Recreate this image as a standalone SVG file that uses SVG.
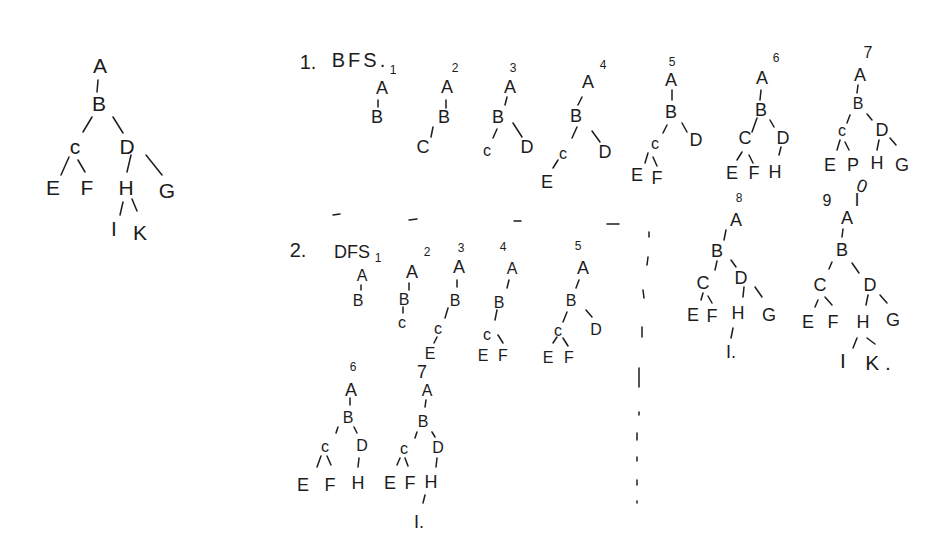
<svg xmlns="http://www.w3.org/2000/svg" width="950" height="539" viewBox="0 0 950 539">
<style>
text{font-family:"Liberation Sans","DejaVu Sans",sans-serif;fill:#1c1c1c;text-anchor:middle;dominant-baseline:central;font-weight:normal}
.big{font-size:21px}
.mid{font-size:18px}
.sm{font-size:16px}
.num{font-size:12px}
.hd{font-size:20px}
line,path{stroke:#1c1c1c;stroke-width:1.5;stroke-linecap:round;fill:none}
</style>
<rect width="950" height="539" fill="#ffffff"/>

<!-- main tree -->
<g id="main-tree">
<g id="main-connectors">
<line x1="98" y1="80" x2="97" y2="92"/>
<line x1="92" y1="117" x2="83" y2="132"/>
<line x1="113" y1="117" x2="123" y2="133"/>
<line x1="69" y1="157" x2="61" y2="175"/>
<line x1="78" y1="160" x2="85" y2="172"/>
<line x1="131" y1="155" x2="127" y2="172"/>
<line x1="146" y1="155" x2="162" y2="175"/>
<line x1="123" y1="202" x2="120" y2="215"/>
<line x1="132" y1="199" x2="137" y2="211"/>
</g>
<text class="big" x="100" y="65">A</text>
<text class="big" x="99" y="103">B</text>
<text class="big" x="75" y="146">c</text>
<text class="big" x="127" y="146">D</text>
<text class="big" x="53" y="187">E</text>
<text class="big" x="87" y="187">F</text>
<text class="big" x="126" y="187">H</text>
<text class="big" x="167" y="190">G</text>
<text class="big" x="114" y="228">I</text>
<text class="big" x="140" y="232">K</text>
</g>

<!-- headers -->
<text class="hd" x="308" y="62">1.</text>
<text class="hd" x="360" y="60" style="letter-spacing:3px">BFS.</text>
<text class="hd" x="298" y="250">2.</text>
<text class="mid" x="352" y="252">DFS</text>

<!-- BFS 1 -->
<g id="bfs-1">
<g id="bfs-1-connectors"><line x1="378" y1="100" x2="378" y2="107"/></g>
<text class="num" x="393" y="70">1</text>
<text class="mid" x="382" y="88">A</text>
<text class="mid" x="377" y="117">B</text>
</g>

<!-- BFS 2 -->
<g id="bfs-2">
<g id="bfs-2-connectors">
<line x1="446" y1="100" x2="446" y2="108"/>
<line x1="433" y1="127" x2="431" y2="137"/>
</g>
<text class="num" x="455" y="68">2</text>
<text class="mid" x="447" y="87">A</text>
<text class="mid" x="444" y="117">B</text>
<text class="mid" x="423" y="147">C</text>
</g>

<!-- BFS 3 -->
<g id="bfs-3">
<g id="bfs-3-connectors">
<line x1="507" y1="97" x2="505" y2="105"/>
<line x1="497" y1="129" x2="493" y2="138"/>
<line x1="513" y1="123" x2="522" y2="137"/>
</g>
<text class="num" x="513" y="68">3</text>
<text class="mid" x="510" y="87">A</text>
<text class="mid" x="498" y="117">B</text>
<text class="sm" x="487" y="150">c</text>
<text class="mid" x="527" y="147">D</text>
</g>

<!-- BFS 4 -->
<g id="bfs-4">
<g id="bfs-4-connectors">
<line x1="582" y1="97" x2="578" y2="105"/>
<line x1="577" y1="127" x2="572" y2="138"/>
<line x1="592" y1="131" x2="600" y2="142"/>
<line x1="558" y1="160" x2="553" y2="168"/>
</g>
<text class="num" x="603" y="65">4</text>
<text class="mid" x="588" y="82">A</text>
<text class="mid" x="576" y="116">B</text>
<text class="sm" x="563" y="153">c</text>
<text class="mid" x="605" y="152">D</text>
<text class="mid" x="547" y="182">E</text>
</g>

<!-- BFS 5 -->
<g id="bfs-5">
<g id="bfs-5-connectors">
<line x1="672" y1="90" x2="672" y2="100"/>
<line x1="667" y1="125" x2="663" y2="133"/>
<line x1="682" y1="123" x2="687" y2="132"/>
<line x1="648" y1="153" x2="645" y2="163"/>
<line x1="653" y1="157" x2="657" y2="166"/>
</g>
<text class="num" x="672" y="62">5</text>
<text class="mid" x="671" y="80">A</text>
<text class="mid" x="671" y="112">B</text>
<text class="sm" x="655" y="143">c</text>
<text class="mid" x="696" y="140">D</text>
<text class="mid" x="637" y="175">E</text>
<text class="mid" x="657" y="178">F</text>
</g>

<!-- BFS 6 -->
<g id="bfs-6">
<g id="bfs-6-connectors">
<line x1="761" y1="90" x2="760" y2="100"/>
<line x1="757" y1="118" x2="752" y2="132"/>
<line x1="770" y1="120" x2="774" y2="127"/>
<line x1="742" y1="152" x2="737" y2="160"/>
<line x1="749" y1="155" x2="753" y2="163"/>
<line x1="781" y1="147" x2="779" y2="155"/>
</g>
<text class="num" x="776" y="58">6</text>
<text class="mid" x="762" y="78">A</text>
<text class="mid" x="761" y="110">B</text>
<text class="mid" x="745" y="138">C</text>
<text class="mid" x="783" y="138">D</text>
<text class="mid" x="732" y="173">E</text>
<text class="mid" x="754" y="173">F</text>
<text class="mid" x="775" y="172">H</text>
</g>

<!-- BFS 7 -->
<g id="bfs-7">
<g id="bfs-7-connectors">
<line x1="858" y1="85" x2="857" y2="93"/>
<line x1="850" y1="115" x2="847" y2="123"/>
<line x1="867" y1="114" x2="872" y2="120"/>
<line x1="840" y1="140" x2="837" y2="150"/>
<line x1="845" y1="142" x2="849" y2="150"/>
<line x1="879" y1="140" x2="877" y2="150"/>
<line x1="890" y1="138" x2="896" y2="145"/>
</g>
<text class="sm" x="868" y="52">7</text>
<text class="mid" x="860" y="75">A</text>
<text class="sm" x="858" y="103">B</text>
<text class="sm" x="842" y="130">c</text>
<text class="mid" x="882" y="130">D</text>
<text class="mid" x="830" y="165">E</text>
<text class="mid" x="853" y="165">P</text>
<text class="mid" x="877" y="163">H</text>
<text class="mid" x="902" y="165">G</text>
</g>

<!-- BFS 8 -->
<g id="bfs-8">
<g id="bfs-8-connectors">
<line x1="726" y1="230" x2="724" y2="240"/>
<line x1="717" y1="261" x2="715" y2="270"/>
<line x1="731" y1="260" x2="736" y2="267"/>
<line x1="703" y1="293" x2="701" y2="300"/>
<line x1="708" y1="296" x2="712" y2="303"/>
<line x1="744" y1="287" x2="743" y2="297"/>
<line x1="755" y1="287" x2="762" y2="297"/>
<line x1="733" y1="328" x2="731" y2="338"/>
</g>
<text class="num" x="739" y="198">8</text>
<text class="mid" x="736" y="220">A</text>
<text class="mid" x="717" y="251">B</text>
<text class="mid" x="703" y="283">C</text>
<text class="mid" x="741" y="278">D</text>
<text class="mid" x="693" y="315">E</text>
<text class="mid" x="712" y="316">F</text>
<text class="mid" x="738" y="313">H</text>
<text class="mid" x="769" y="315">G</text>
<text class="mid" x="731" y="352">I.</text>
</g>

<!-- BFS 9 -->
<g id="bfs-9">
<g id="bfs-9-connectors">
<line x1="843" y1="229" x2="842" y2="237"/>
<line x1="832" y1="262" x2="829" y2="269"/>
<line x1="852" y1="263" x2="859" y2="273"/>
<line x1="818" y1="300" x2="815" y2="307"/>
<line x1="825" y1="297" x2="832" y2="305"/>
<line x1="868" y1="295" x2="866" y2="305"/>
<line x1="880" y1="295" x2="887" y2="303"/>
<line x1="857" y1="338" x2="853" y2="348"/>
<line x1="867" y1="338" x2="875" y2="344"/>
</g>
<text class="sm" x="827" y="200">9</text>
<text class="mid" x="857" y="200">I</text>
<text class="mid" x="862" y="186" transform="rotate(20 862 186)">0</text>
<text class="mid" x="847" y="218">A</text>
<text class="mid" x="842" y="250">B</text>
<text class="mid" x="820" y="285">C</text>
<text class="mid" x="870" y="285">D</text>
<text class="mid" x="808" y="322">E</text>
<text class="mid" x="833" y="322">F</text>
<text class="mid" x="863" y="322">H</text>
<text class="mid" x="893" y="320">G</text>
<text class="big" x="843" y="360">I</text>
<text class="big" x="878" y="362">K .</text>
</g>

<!-- separator dashes -->
<g id="separators">
<line x1="333" y1="215" x2="340" y2="214"/>
<line x1="409" y1="220" x2="417" y2="219"/>
<line x1="514" y1="221" x2="521" y2="221"/>
<line x1="607" y1="224" x2="619" y2="224"/>
<line x1="649" y1="232" x2="649" y2="237"/>
<line x1="648" y1="257" x2="647" y2="265"/>
<line x1="643" y1="290" x2="644" y2="298"/>
<line x1="642" y1="327" x2="642" y2="337"/>
<line x1="639" y1="368" x2="639" y2="387"/>
<line x1="639" y1="412" x2="639" y2="415"/>
<line x1="637" y1="433" x2="637" y2="440"/>
<line x1="637" y1="457" x2="637" y2="461"/>
<line x1="637" y1="480" x2="637" y2="485"/>
<line x1="637" y1="501" x2="637" y2="503"/>
</g>

<!-- DFS 1 -->
<g id="dfs-1">
<g id="dfs-1-connectors"><line x1="361" y1="285" x2="361" y2="290"/></g>
<text class="num" x="378" y="258">1</text>
<text class="sm" x="362" y="275">A</text>
<text class="sm" x="358" y="300">B</text>
</g>

<!-- DFS 2 -->
<g id="dfs-2">
<g id="dfs-2-connectors">
<line x1="409" y1="283" x2="409" y2="290"/>
<line x1="403" y1="307" x2="403" y2="313"/>
</g>
<text class="num" x="427" y="252">2</text>
<text class="mid" x="412" y="272">A</text>
<text class="sm" x="404" y="299">B</text>
<text class="sm" x="402" y="322">c</text>
</g>

<!-- DFS 3 -->
<g id="dfs-3">
<g id="dfs-3-connectors">
<line x1="457" y1="280" x2="457" y2="287"/>
<line x1="448" y1="308" x2="445" y2="318"/>
<line x1="437" y1="337" x2="434" y2="343"/>
</g>
<text class="num" x="461" y="248">3</text>
<text class="mid" x="459" y="267">A</text>
<text class="sm" x="455" y="300">B</text>
<text class="sm" x="438" y="328">c</text>
<text class="sm" x="430" y="353">E</text>
</g>

<!-- DFS 4 -->
<g id="dfs-4">
<g id="dfs-4-connectors">
<line x1="509" y1="280" x2="507" y2="288"/>
<line x1="497" y1="310" x2="495" y2="320"/>
<line x1="498" y1="335" x2="503" y2="343"/>
</g>
<text class="num" x="503" y="247">4</text>
<text class="sm" x="512" y="268">A</text>
<text class="sm" x="499" y="302">B</text>
<text class="sm" x="487" y="334">c</text>
<text class="sm" x="483" y="355">E</text>
<text class="sm" x="503" y="355">F</text>
</g>

<!-- DFS 5 -->
<g id="dfs-5">
<g id="dfs-5-connectors">
<line x1="579" y1="280" x2="576" y2="288"/>
<line x1="567" y1="312" x2="563" y2="322"/>
<line x1="586" y1="310" x2="592" y2="317"/>
<line x1="557" y1="337" x2="553" y2="343"/>
<line x1="563" y1="338" x2="568" y2="346"/>
</g>
<text class="num" x="578" y="246">5</text>
<text class="mid" x="583" y="268">A</text>
<text class="sm" x="571" y="300">B</text>
<text class="sm" x="558" y="330">c</text>
<text class="sm" x="596" y="329">D</text>
<text class="sm" x="548" y="357">E</text>
<text class="sm" x="569" y="357">F</text>
</g>

<!-- DFS 6 -->
<g id="dfs-6">
<g id="dfs-6-connectors">
<line x1="350" y1="398" x2="350" y2="405"/>
<line x1="338" y1="427" x2="336" y2="433"/>
<line x1="354" y1="427" x2="357" y2="433"/>
<line x1="321" y1="456" x2="317" y2="467"/>
<line x1="327" y1="456" x2="331" y2="465"/>
<line x1="359" y1="458" x2="358" y2="467"/>
</g>
<text class="num" x="353" y="367">6</text>
<text class="mid" x="351" y="390">A</text>
<text class="sm" x="348" y="417">B</text>
<text class="sm" x="325" y="446">c</text>
<text class="sm" x="362" y="445">D</text>
<text class="mid" x="303" y="485">E</text>
<text class="mid" x="330" y="485">F</text>
<text class="mid" x="358" y="483">H</text>
</g>

<!-- DFS 7 -->
<g id="dfs-7">
<g id="dfs-7-connectors">
<line x1="426" y1="400" x2="425" y2="407"/>
<line x1="417" y1="432" x2="415" y2="438"/>
<line x1="432" y1="432" x2="435" y2="437"/>
<line x1="400" y1="458" x2="397" y2="465"/>
<line x1="405" y1="458" x2="408" y2="466"/>
<line x1="437" y1="458" x2="436" y2="467"/>
<line x1="425" y1="495" x2="423" y2="503"/>
</g>
<text class="mid" x="422" y="372">7</text>
<text class="sm" x="427" y="390">A</text>
<text class="sm" x="423" y="421">B</text>
<text class="sm" x="404" y="448">c</text>
<text class="sm" x="438" y="447">D</text>
<text class="mid" x="390" y="483">E</text>
<text class="mid" x="410" y="483">F</text>
<text class="mid" x="431" y="482">H</text>
<text class="mid" x="419" y="522">I.</text>
</g>
</svg>
